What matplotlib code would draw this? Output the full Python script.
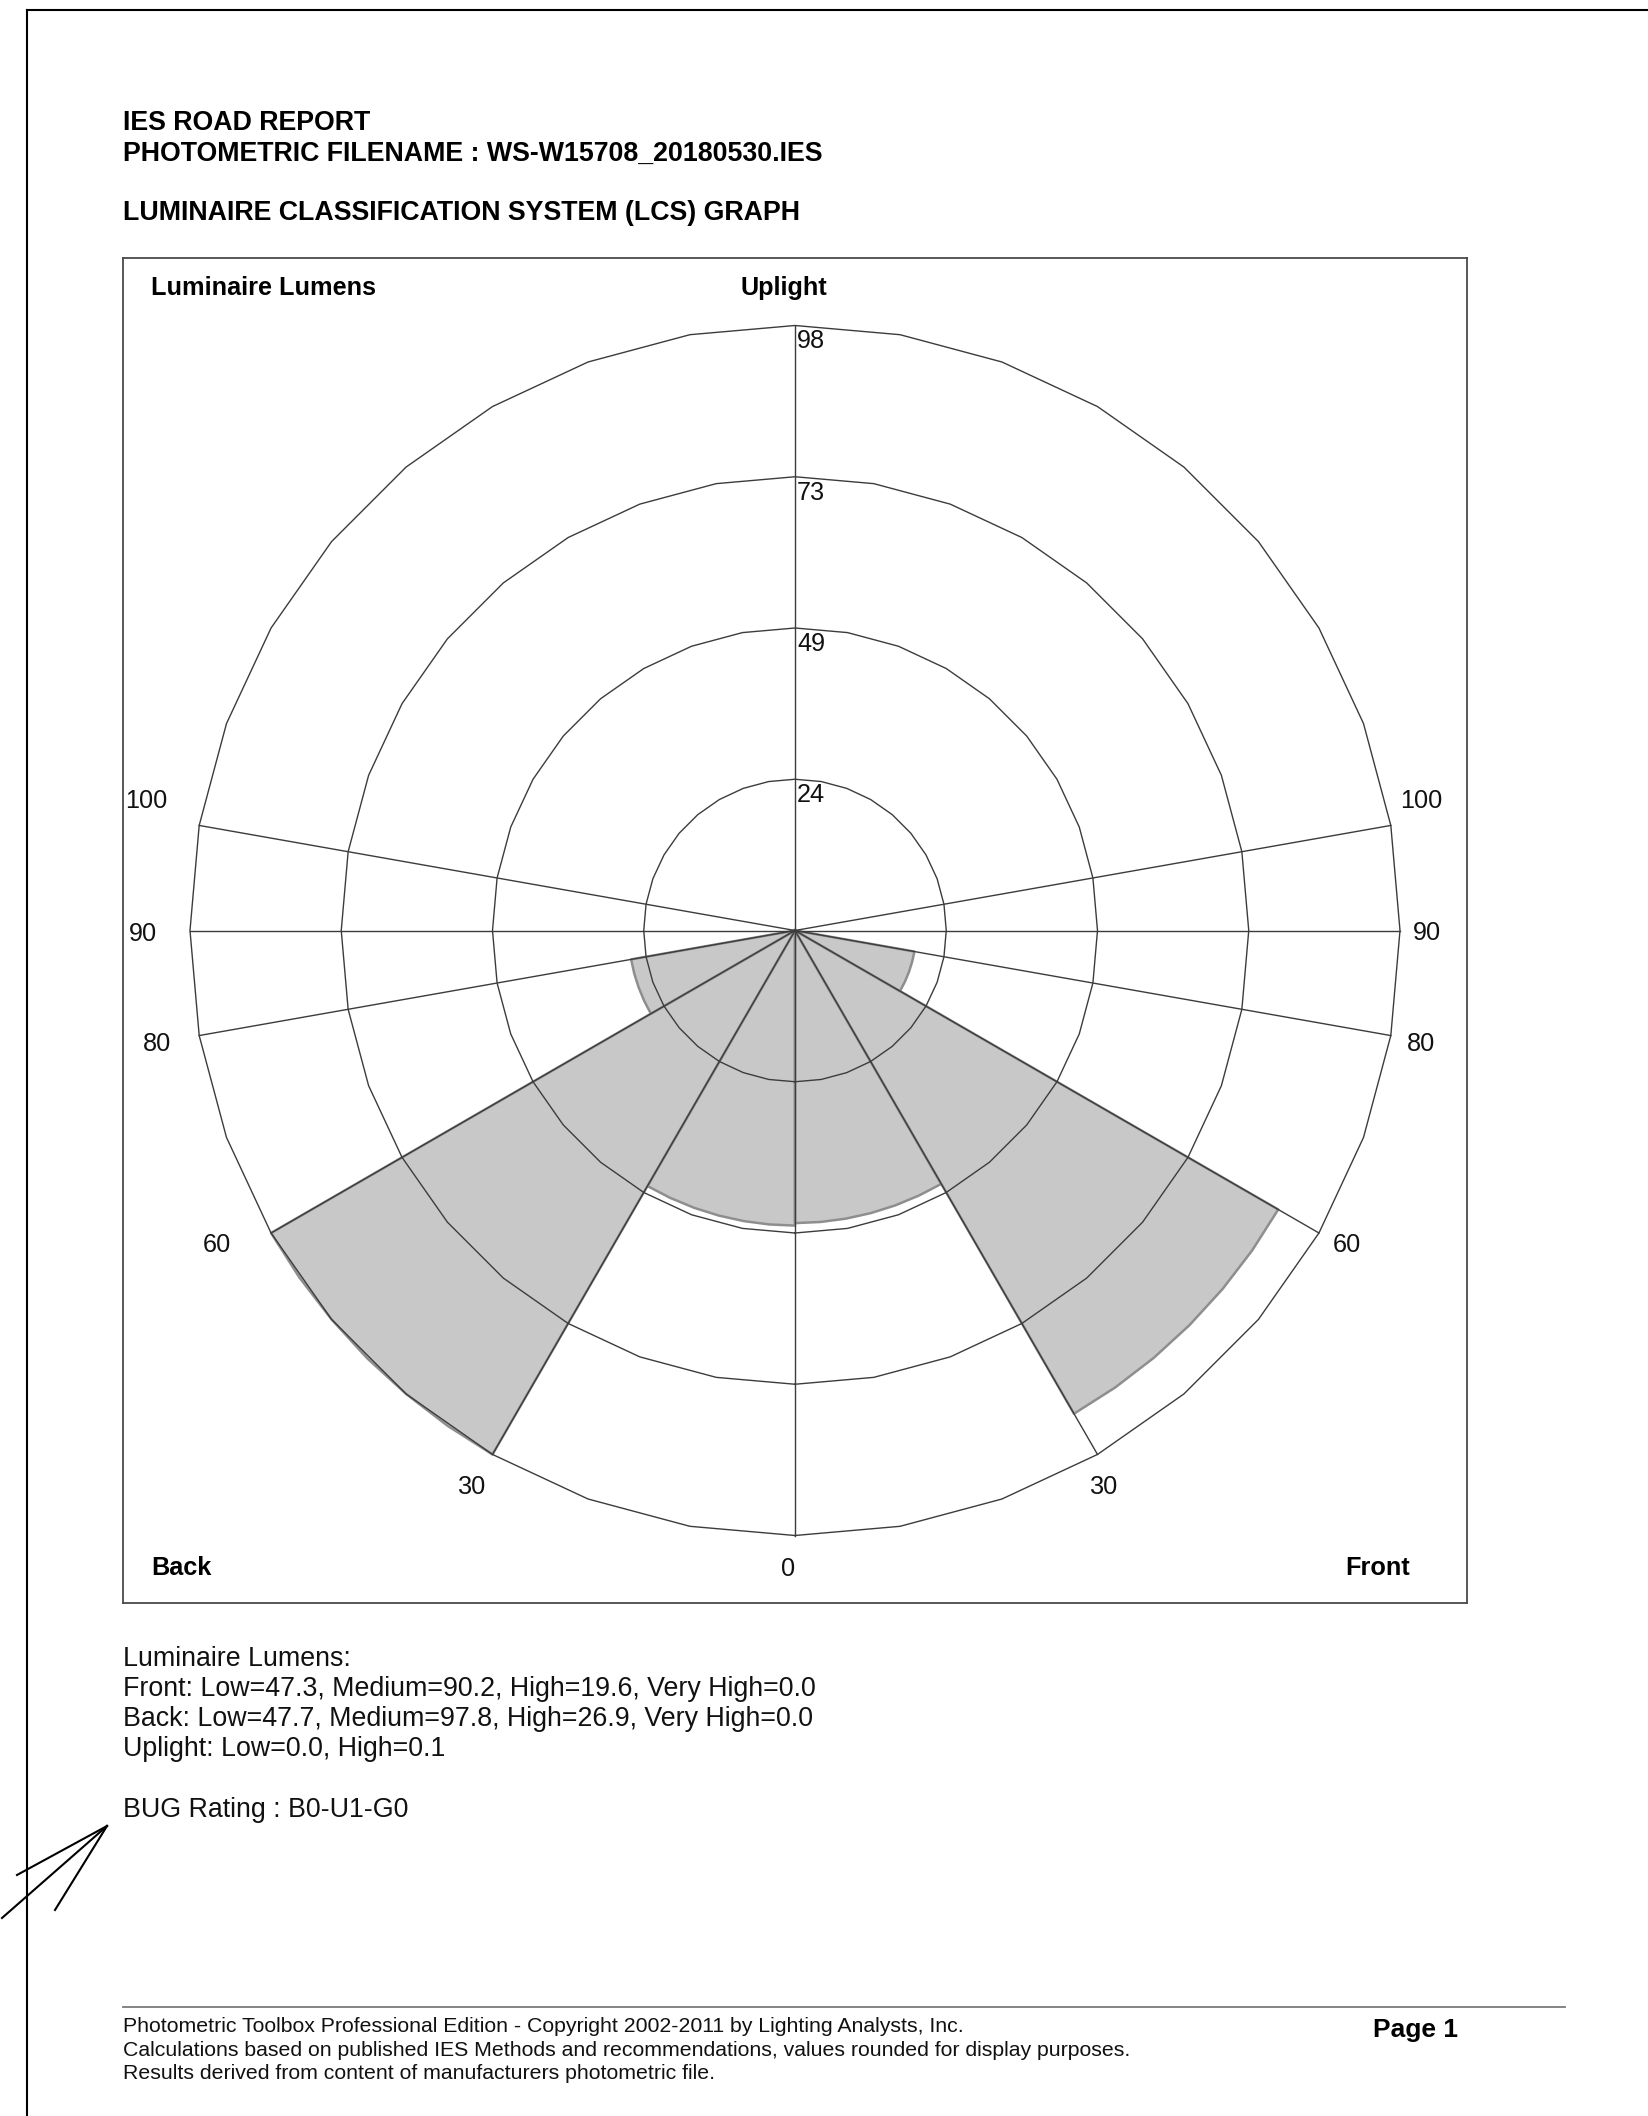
import numpy as np
import matplotlib
matplotlib.use('Agg')
import matplotlib.pyplot as plt
from matplotlib.patches import Polygon
from matplotlib.lines import Line2D

plt.rcParams['font.family'] = ['Liberation Sans', 'DejaVu Sans']

# ---------------- data ----------------
filename = 'WS-W15708_20180530.IES'
zone_names = ['Low', 'Medium', 'High', 'Very High']
zone_bounds = [0, 30, 60, 80, 90]            # vertical angle (deg from nadir)
front_lumens = [47.3, 90.2, 19.6, 0.0]
back_lumens = [47.7, 97.8, 26.9, 0.0]
uplight_names = ['Low', 'High']
uplight_bounds = [90, 100, 180]
uplight_lumens = [0.0, 0.1]
ring_labels = ['24', '49', '73', '98']
angle_ticks = [0, 30, 60, 80, 90, 100]
angle_labels = ['0', '30', '60', '80', '90', '100']
bug_rating = 'B0-U1-G0'

# ---------------- layout ----------------
W, H = 1648, 2116
fig = plt.figure(figsize=(W / 100, H / 100), dpi=100)
fig.patch.set_facecolor('white')


def fx(x):
    return x / W


def fy(y):
    return 1 - y / H


scale_max = max(front_lumens + back_lumens + uplight_lumens)
R = scale_max
R_PX = 605.0
upp = R / R_PX  # data units per pixel

box_l, box_r, box_t, box_b = 123, 1467, 258, 1603
ax = fig.add_axes([fx(box_l), fy(box_b), (box_r - box_l) / W, (box_b - box_t) / H])
cx_px, cy_px = 795, 930.5
ax.set_xlim((box_l - cx_px) * upp, (box_r - cx_px) * upp)
ax.set_ylim(-(box_b - cy_px) * upp, (cy_px - box_t) * upp)
ax.set_xticks([])
ax.set_yticks([])
for s in ax.spines.values():
    s.set_color('#4a4a4a')
    s.set_linewidth(1.3)

FILL = '#c8c8c8'
EDGE = '#8e8e8e'
GRID = '#3c3c3c'
GLW = 1.0
LS = 18.2


def pol(r, deg, side):
    t = np.radians(deg)
    return side * r * np.sin(t), -r * np.cos(t)


def wedge(v, a0, a1, side):
    n = int(round((a1 - a0) / 5)) + 1
    angs = np.linspace(a0, a1, n)
    pts = [(0, 0)] + [pol(v, a, side) for a in angs]
    ax.add_patch(Polygon(pts, closed=True, facecolor=FILL, edgecolor=EDGE,
                         linewidth=1.8, zorder=1, joinstyle='round'))


for side, vals in [(-1, back_lumens), (1, front_lumens)]:
    for i, v in enumerate(vals):
        if v > 0:
            wedge(v, zone_bounds[i], zone_bounds[i + 1], side)
    for i, v in enumerate(uplight_lumens):
        if v > 0:
            wedge(v, uplight_bounds[i], uplight_bounds[i + 1], side)

# rings (36-gon)
ring_angles = np.arange(0, 361, 10)
for k in range(1, 5):
    r = R * k / 4
    xs = r * np.sin(np.radians(ring_angles))
    ys = -r * np.cos(np.radians(ring_angles))
    ax.plot(xs, ys, color=GRID, lw=GLW, zorder=3)
    ax.text(2 * upp, r - 23 * upp, ring_labels[k - 1], ha='left', va='baseline',
            fontsize=LS, color='#111111', zorder=4)

# radial lines
ax.plot([0, 0], [-R, R], color=GRID, lw=GLW, zorder=3)
ax.plot([-R, R], [0, 0], color=GRID, lw=GLW, zorder=3)
for side in (-1, 1):
    for a in angle_ticks:
        if a in (0, 90):
            continue
        x, y = pol(R, a, side)
        ax.plot([0, x], [0, y], color=GRID, lw=GLW, zorder=3)

# angle labels: label placement (radius in px, angle in deg) per side
label_place = {
    -1: {30: (642, 30.2), 60: (657, 61.6), 80: (648, 80.1), 90: (652, 89.9), 100: (662, 101.5)},
    1: {30: (635, 29.1), 60: (634, 60.5), 80: (636, 79.9), 90: (632, 90.0), 100: (640, 101.9)},
}
for side in (-1, 1):
    for a, lab in zip(angle_ticks, angle_labels):
        if a == 0:
            continue
        rp, aa = label_place[side][a]
        x, y = pol(rp * upp, aa, side)
        ax.text(x, y - 9.0 * upp, lab, ha='center', va='baseline', fontsize=LS,
                color='#111111', zorder=4)
x0, y0 = pol(636 * upp, 0, 1)
ax.text(x0 - 7 * upp, y0 - 9.0 * upp, angle_labels[0], ha='center', va='baseline',
        fontsize=LS, color='#111111')

# corner labels
tf = ax.transAxes
bw, bh = box_r - box_l, box_b - box_t
ax.text((151 - box_l) / bw, (box_b - 295) / bh, 'Luminaire Lumens', transform=tf,
        ha='left', va='baseline', fontsize=LS, fontweight='bold')
ax.text((784 - box_l) / bw, (box_b - 295) / bh, 'Uplight', transform=tf,
        ha='center', va='baseline', fontsize=LS, fontweight='bold')
ax.text((181 - box_l) / bw, (box_b - 1575) / bh, 'Back', transform=tf,
        ha='center', va='baseline', fontsize=LS, fontweight='bold')
ax.text((1378 - box_l) / bw, (box_b - 1575) / bh, 'Front', transform=tf,
        ha='center', va='baseline', fontsize=LS, fontweight='bold')

# ---------------- header ----------------
TS = 19.3
fig.text(fx(123), fy(129.5), 'IES ROAD REPORT', fontsize=TS, fontweight='bold', va='baseline')
fig.text(fx(123), fy(160.5), 'PHOTOMETRIC FILENAME : ' + filename, fontsize=TS,
         fontweight='bold', va='baseline')
fig.text(fx(123), fy(220.5), 'LUMINAIRE CLASSIFICATION SYSTEM (LCS) GRAPH', fontsize=TS,
         fontweight='bold', va='baseline')

# ---------------- summary ----------------
def zone_str(vals, names):
    return ', '.join(f'{n}={v:.1f}' for n, v in zip(names, vals))


lines = [
    'Luminaire Lumens:',
    'Front: ' + zone_str(front_lumens, zone_names),
    'Back: ' + zone_str(back_lumens, zone_names),
    'Uplight: ' + zone_str(uplight_lumens, uplight_names),
]
for i, t in enumerate(lines):
    fig.text(fx(123), fy(1666.5 + 30 * i), t, fontsize=TS, va='baseline', color='#111111')
fig.text(fx(123), fy(1817), 'BUG Rating : ' + bug_rating, fontsize=TS, va='baseline',
         color='#111111')

# ---------------- footer ----------------
fig.add_artist(Line2D([fx(123), fx(1565)], [fy(2007), fy(2007)], color='#7a7a7a', lw=1.3))
foot = [
    'Photometric Toolbox Professional Edition - Copyright 2002-2011 by Lighting Analysts, Inc.',
    'Calculations based on published IES Methods and recommendations, values rounded for display purposes.',
    'Results derived from content of manufacturers photometric file.',
]
for i, t in enumerate(foot):
    fig.text(fx(123), fy(2032 + 23.5 * i), t, fontsize=15.35, va='baseline', color='#111111')
fig.text(fx(1458), fy(2037), 'Page 1', fontsize=19, fontweight='bold', ha='right',
         va='baseline')

# ---------------- page border & hand-drawn arrow ----------------
fig.add_artist(Line2D([fx(27), fx(W)], [fy(10), fy(10)], color='black', lw=1.5))
fig.add_artist(Line2D([fx(27), fx(27)], [fy(10), fy(H)], color='black', lw=1.5))
apex = (107, 1826)
for end in [(17, 1875), (2, 1918), (55, 1910)]:
    fig.add_artist(Line2D([fx(apex[0]), fx(end[0])], [fy(apex[1]), fy(end[1])],
                          color='black', lw=1.5))

fig.savefig('out.png', dpi=100, facecolor='white')
